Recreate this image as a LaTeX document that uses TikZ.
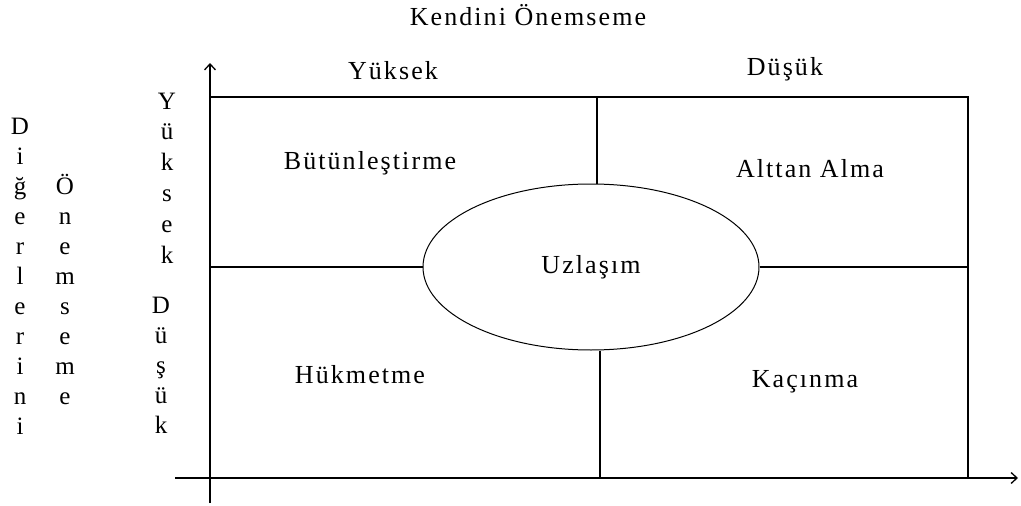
\documentclass[tikz,border=0pt]{standalone}
\usepackage{fontspec}
\setmainfont{Liberation Serif}[LetterSpace=8]
\usetikzlibrary{shapes.geometric,arrows.meta}

\begin{document}
\begin{tikzpicture}[
  x=1pt,
  y=-1pt,
  line width=1.3pt,
  etiket/.style={font=\fontsize{26}{30}\selectfont, inner sep=0pt},
  harf/.style={font=\fontsize{25}{30}\selectfont, inner sep=0pt, anchor=base},
  eksen/.style={-{Straight Barb[length=6pt,width=11pt]}}
]
  \useasboundingbox (0,0) rectangle (1021,506);

  % Eksenler
  \coordinate (Yalt) at (210,503);
  \coordinate (Yust) at (210,63);
  \coordinate (Xsol) at (175,478);
  \coordinate (Xsag) at (1018,478);
  \draw[eksen] (Yalt) -- (Yust);
  \draw[eksen] (Xsol) -- (Xsag);

  % Kutu
  \coordinate (SolUst) at (210,97);
  \coordinate (SagUst) at (968,97);
  \coordinate (SagAlt) at (968,478);
  \draw (SolUst) -- (SagUst) -- (SagAlt);

  % Orta elips
  \node[draw, ellipse, line width=1pt, minimum width=336, minimum height=166,
        inner sep=0pt, etiket] (uz) at (591,267) {Uzlaşım};

  % Bölme çizgileri
  \coordinate (UstOrta) at (597,97);
  \coordinate (AltOrta) at (600,478);
  \draw (UstOrta) -- (UstOrta |- uz.north);
  \draw (AltOrta |- uz.south) -- (AltOrta);
  \draw (uz.west) -- (uz.west -| SolUst);
  \draw (uz.east) -- (uz.east -| SagUst);

  % Başlıklar
  \node[etiket] (baslik) at (528,15) {Kendini Önemseme};
  \node[etiket] (yuksek) at (393,71) {Yüksek};
  \node[etiket] (dusuk) at (785,69) {Düşük};

  % Bölgeler
  \node[etiket] (butun) at (370,163) {Bütünleştirme};
  \node[etiket] (alttan) at (810,169) {Alttan Alma};
  \node[etiket] (hukum) at (360,375) {Hükmetme};
  \node[etiket] (kacin) at (805,382) {Kaçınma};

  % Dikey yazılar
  \foreach \h [count=\i from 0] in {D,i,ğ,e,r,l,e,r,i,n,i}
    \node[harf] (d\i) at (20,134+30*\i) {\h};
  \foreach \h [count=\i from 2] in {Ö,n,e,m,s,e,m,e}
    \node[harf] (o\i) at (65,134+30*\i) {\h};
  \foreach \h [count=\i from 0] in {Y,ü,k,s,e,k}
    \node[harf] (y\i) at (167,109+30.8*\i) {\h};
  \foreach \h [count=\i from 0] in {D,ü,ş,ü,k}
    \node[harf] (k\i) at (161,313+30.2*\i) {\h};
\end{tikzpicture}
\end{document}
